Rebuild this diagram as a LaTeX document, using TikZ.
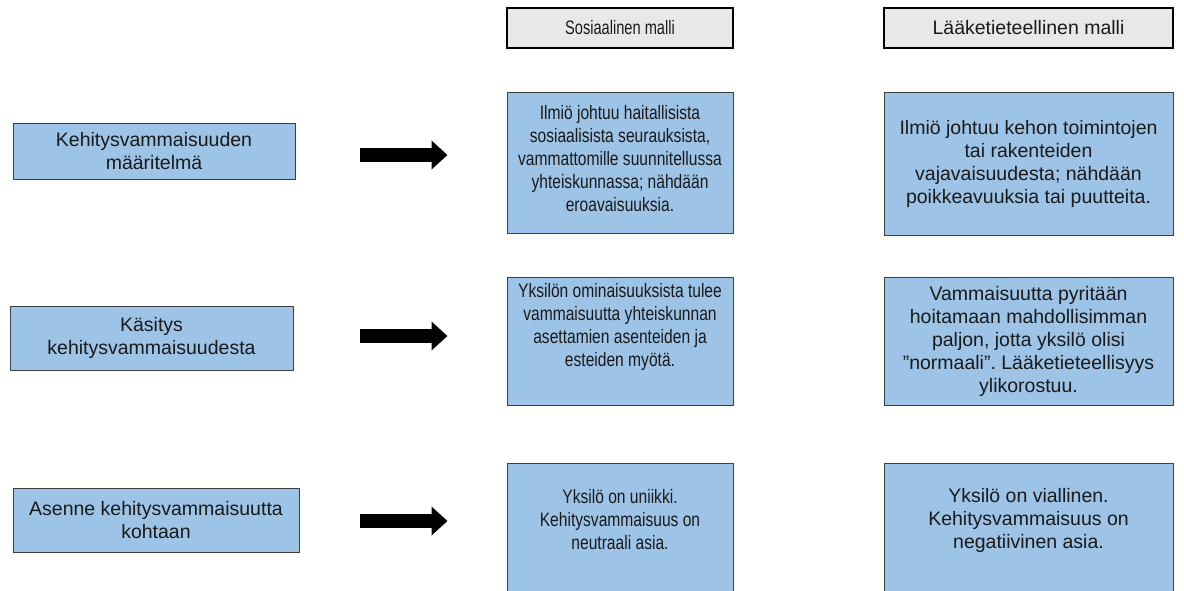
\documentclass[tikz,border=0pt]{standalone}
\usepackage{fontspec}
\setmainfont{Liberation Sans}
\newfontfamily\midfont{Liberation Sans}[FakeStretch=0.8]
\newfontfamily\headfont{Liberation Sans}[FakeStretch=0.75]
\frenchspacing
\usetikzlibrary{arrows.meta}
\definecolor{boxblue}{HTML}{9DC3E6}
\definecolor{boxedge}{HTML}{3F3F3F}
\definecolor{headfill}{HTML}{E8E8E8}
\definecolor{txtcol}{HTML}{1A1A1A}
\begin{document}
\begin{tikzpicture}[x=1pt,y=-1pt,
  bluebox/.style={draw=boxedge, fill=boxblue, line width=1pt, inner sep=0pt, align=center, text=txtcol, font=\fontsize{19.5}{23}\selectfont},
  headbox/.style={draw=black, fill=headfill, line width=1.6pt, inner sep=0pt, align=center, text=txtcol, font=\fontsize{19.5}{23}\selectfont},
  txt/.style={inner sep=0pt, align=center, text=txtcol, font=\fontsize{19.5}{23}\selectfont},
  midtxt/.style={txt, font=\midfont\fontsize{19.5}{23}\selectfont},
  bigarrow/.style={black, line width=14pt, -{Triangle[width=28pt,length=16pt]}}]
\useasboundingbox (0,0) rectangle (1184,590);
% headers
\node[headbox, font=\headfont\fontsize{19.5}{23}\selectfont, minimum width=226pt, minimum height=40pt] (h1) at (620,28) {Sosiaalinen malli};
\node[headbox, minimum width=289pt, minimum height=40pt] (h2) at (1028.5,28) {Lääketieteellinen malli};
% left column
\node[bluebox, minimum width=282pt, minimum height=56pt] (l1) at (154,151) {Kehitysvammaisuuden\\määritelmä};
\node[bluebox, minimum width=283pt, minimum height=64pt] (l2) at (151.5,338) {Käsitys\\kehitysvammaisuudesta};
\node[bluebox, minimum width=286pt, minimum height=64pt] (l3) at (156,520) {Asenne kehitysvammaisuutta\\kohtaan};
% row 1
\node[bluebox, minimum width=226pt, minimum height=141pt] (m1) at (620,162.5) {};
\node[midtxt] (m1t) at (620,159) {Ilmiö johtuu haitallisista\\sosiaalisista seurauksista,\\vammattomille suunnitellussa\\yhteiskunnassa; nähdään\\eroavaisuuksia.};
\node[bluebox, minimum width=289pt, minimum height=143pt] (r1) at (1028.5,163.5) {Ilmiö johtuu kehon toimintojen\\tai rakenteiden\\vajavaisuudesta; nähdään\\poikkeavuuksia tai puutteita.};
% row 2
\node[bluebox, minimum width=226pt, minimum height=128pt] (m2) at (620,341) {};
\node[midtxt] (m2t) at (620,327) {Yksilön ominaisuuksista tulee\\vammaisuutta yhteiskunnan\\asettamien asenteiden ja\\esteiden myötä.};
\node[bluebox, minimum width=289pt, minimum height=128pt] (r2) at (1028.5,341) {Vammaisuutta pyritään\\hoitamaan mahdollisimman\\paljon, jotta yksilö olisi\\”normaali”. Lääketieteellisyys\\ylikorostuu.};
% row 3
\node[bluebox, minimum width=226pt, minimum height=160pt, anchor=north] (m3) at (620,463) {};
\node[bluebox, minimum width=289pt, minimum height=160pt, anchor=north] (r3) at (1028.5,463) {};
\node[midtxt] (m3t) at (620,520) {Yksilö on uniikki.\\Kehitysvammaisuus on\\neutraali asia.};
\node[txt] (r3t) at (1028.5,520) {Yksilö on viallinen.\\Kehitysvammaisuus on\\negatiivinen asia.};
% arrows
\coordinate (a1) at (360,155);
\coordinate (a2) at (360,336);
\coordinate (a3) at (360,521);
\draw[bigarrow, shorten >=59pt] (a1) -- (a1 -| m1.west);
\draw[bigarrow, shorten >=59pt] (a2) -- (a2 -| m2.west);
\draw[bigarrow, shorten >=59pt] (a3) -- (a3 -| m3.west);
\end{tikzpicture}
\end{document}
